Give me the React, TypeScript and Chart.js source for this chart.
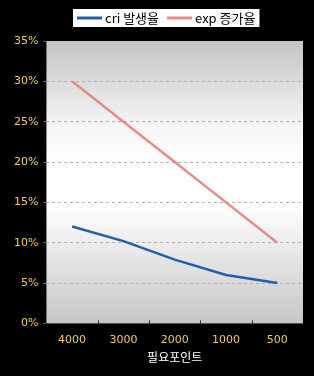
import React, { useEffect, useRef } from "react";
import { Chart, registerables } from "chart.js";

Chart.register(...registerables);

const categories = ["4000", "3000", "2000", "1000", "500"];
const criValues = [12, 10.2, 7.9, 6, 5];
const expValues = [30, 25, 20, 15, 10];
const seriesLabels = ["cri 발생율", "exp 증가율"];
const axisTitle = "필요포인트";

const LEGEND_FONT = "13px 'Noto Sans CJK KR', 'DejaVu Sans', sans-serif";

const bgPlugin = {
  id: "bgPlugin",
  beforeDraw(chart: any) {
    const { ctx, chartArea, width, height } = chart;
    ctx.save();
    ctx.fillStyle = "#000";
    ctx.fillRect(0, 0, width, height);
    const g = ctx.createLinearGradient(0, chartArea.top, 0, chartArea.bottom);
    g.addColorStop(0, "#c4c4c4");
    g.addColorStop(0.3, "#f6f6f6");
    g.addColorStop(0.45, "#ffffff");
    g.addColorStop(0.58, "#ffffff");
    g.addColorStop(1, "#c6c6c6");
    ctx.fillStyle = g;
    ctx.fillRect(chartArea.left, chartArea.top, chartArea.right - chartArea.left, chartArea.bottom - chartArea.top);
    ctx.restore();
  },
  afterDraw(chart: any) {
    const { ctx, chartArea } = chart;
    const xs = chart.scales.x;
    ctx.save();
    // inner category-boundary tick marks along the bottom edge
    ctx.strokeStyle = "#222";
    ctx.lineWidth = 1;
    for (let i = 0; i < categories.length - 1; i++) {
      const x = Math.round((xs.getPixelForTick(i) + xs.getPixelForTick(i + 1)) / 2) + 0.5;
      ctx.beginPath();
      ctx.moveTo(x, chartArea.bottom);
      ctx.lineTo(x, chartArea.bottom - 3);
      ctx.stroke();
    }
    // legend
    ctx.font = LEGEND_FONT;
    const ds = chart.data.datasets;
    const lineW = 25;
    const widths = ds.map((d: any) => ctx.measureText(d.label).width);
    const itemsW = ds.reduce((s: number, _d: any, i: number) => s + lineW + 3 + widths[i], 0) + 8 * (ds.length - 1);
    const boxL = 73, boxT = 9, boxH = 18;
    const boxW = itemsW + 8;
    ctx.fillStyle = "#fff";
    ctx.fillRect(boxL, boxT, boxW, boxH);
    let x = boxL + 4;
    const cy = boxT + boxH / 2;
    ds.forEach((d: any, i: number) => {
      ctx.strokeStyle = d.borderColor;
      ctx.lineWidth = 3;
      ctx.beginPath();
      ctx.moveTo(x, cy);
      ctx.lineTo(x + lineW, cy);
      ctx.stroke();
      x += lineW + 3;
      ctx.fillStyle = "#000";
      ctx.textBaseline = "middle";
      ctx.textAlign = "left";
      ctx.fillText(d.label, x, cy);
      x += widths[i] + 8;
    });
    ctx.restore();
  },
};

export default function App() {
  const ref = useRef<HTMLCanvasElement>(null);
  useEffect(() => {
    document.body.style.margin = "0";
    const chart = new Chart(ref.current!, {
      type: "line",
      data: {
        labels: categories,
        datasets: [
          {
            label: seriesLabels[0],
            data: criValues,
            borderColor: "#1f5fae",
            backgroundColor: "#1f5fae",
            borderWidth: 2.5,
            pointRadius: 0,
            tension: 0,
          },
          {
            label: seriesLabels[1],
            data: expValues,
            borderColor: "#e98a8a",
            backgroundColor: "#e98a8a",
            borderWidth: 2.5,
            pointRadius: 0,
            tension: 0,
          },
        ],
      },
      options: {
        animation: false,
        responsive: true,
        maintainAspectRatio: false,
        layout: { padding: { left: 9, right: 11, top: 41, bottom: 11 } },
        plugins: {
          legend: { display: false },
          tooltip: { enabled: false },
        },
        scales: {
          x: {
            offset: true,
            grid: { offset: true, drawOnChartArea: false, color: "rgba(0,0,0,0)", tickColor: "rgba(0,0,0,0)", tickLength: 4 },
            border: { display: false },
            ticks: { color: "#f0cc66", font: { family: "'DejaVu Sans', sans-serif", size: 11 }, padding: 6 },
            title: {
              display: true,
              text: axisTitle,
              color: "#fff",
              font: { family: "'Noto Sans CJK KR', sans-serif", size: 12 },
              padding: { top: -2, bottom: 0 },
            },
          },
          y: {
            min: 0,
            max: 35,
            ticks: {
              stepSize: 5,
              color: "#f0cc66",
              font: { family: "'DejaVu Sans', sans-serif", size: 11 },
              padding: 5,
              callback: (v: any) => v + "%",
            },
            grid: {
              color: (c: any) => (c.tick && (c.tick.value === 0 || c.tick.value === 35) ? "rgba(0,0,0,0)" : "#b0b0b0"),
              tickColor: "#666",
              tickLength: 3,
            },
            border: { display: false, dash: [3, 3] },
          },
        },
      },
      plugins: [bgPlugin],
    });
    return () => chart.destroy();
  }, []);
  return (
    <div style={{ position: "absolute", left: 0, top: 0, width: 314, height: 376, background: "#000" }}>
      <canvas ref={ref} />
    </div>
  );
}
